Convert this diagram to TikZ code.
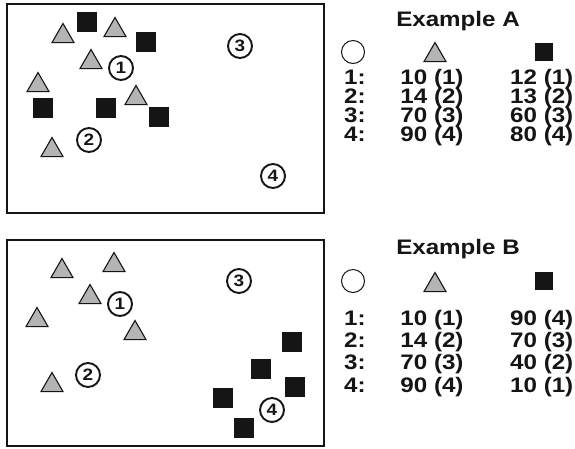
\documentclass[tikz,border=0pt]{standalone}
\usepackage{fontspec}
\setmainfont{Liberation Sans}
\newfontfamily\widefont[FakeStretch=1.15]{Liberation Sans}
\usetikzlibrary{shapes.geometric}
\definecolor{tgray}{HTML}{B4B4B4}
\definecolor{ink}{HTML}{151515}
\tikzset{
  frame/.style={draw=ink, line width=2.5pt},
  tri/.style={regular polygon, regular polygon sides=3, minimum size=25.4pt, inner sep=0pt,
    draw=ink, line width=1.1pt, fill=tgray, yshift=-3.2pt},
  sq/.style={rectangle, minimum size=20pt, inner sep=0pt, fill=ink},
  lsq/.style={rectangle, minimum size=18pt, inner sep=0pt, fill=ink},
  num/.style={circle, draw=ink, line width=1.9pt, minimum size=24pt, inner sep=0pt,
    text=ink, font=\widefont\bfseries\fontsize{16.5}{16.5}\selectfont},
  lcirc/.style={circle, draw=ink, line width=1pt, minimum size=23pt, inner sep=0pt},
  title/.style={text=ink, inner sep=0pt, font=\widefont\bfseries\fontsize{21}{21}\selectfont},
  cell/.style={text=ink, inner sep=0pt, text height=13pt, text depth=3pt,
    font=\widefont\bfseries\fontsize{21}{21}\selectfont},
}
\begin{document}
\begin{tikzpicture}[x=1pt, y=-1pt]
\useasboundingbox (0,0) rectangle (575,448);
\fill[white] (0,0) rectangle (575,448);
% ---------- Example A ----------
\draw[frame] (7,4) rectangle (324,213);
\node[tri] (a1) at (63,33) {};
\node[sq]  (a2) at (87,22) {};
\node[tri] (a3) at (115,27) {};
\node[sq]  (a4) at (146,42) {};
\node[tri] (a5) at (91,59) {};
\node[tri] (a6) at (38,82) {};
\node[sq]  (a7) at (43,108) {};
\node[sq]  (a8) at (106,108) {};
\node[tri] (a9) at (136,95) {};
\node[sq]  (a10) at (159,117) {};
\node[tri] (a11) at (52,147) {};
\node[num] (ac1) at (121,68) {1};
\node[num] (ac2) at (89,140) {2};
\node[num] (ac3) at (240,46) {3};
\node[num] (ac4) at (273,176) {4};
\node[title] (ta) at (458,21) {Example A};
\node[lcirc] (lca) at (353,52) {};
\node[tri] (lta) at (435,52) {};
\node[lsq] (lsa) at (544,52) {};
\foreach \r/\y/\b/\c in {1/79/10 (1)/12 (1), 2/98/14 (2)/13 (2), 3/117/70 (3)/60 (3), 4/136/90 (4)/80 (4)} {
  \node[cell, anchor=west] (ra\r) at (344,\y) {\r:};
  \node[cell] (ba\r) at (432,\y) {\b};
  \node[cell, anchor=west] (ca\r) at (510,\y) {\c};
}
% ---------- Example B ----------
\draw[frame] (7,240) rectangle (324,446);
\node[tri] (b1) at (62,268) {};
\node[tri] (b2) at (114,262) {};
\node[tri] (b3) at (90,294) {};
\node[tri] (b4) at (37,317) {};
\node[tri] (b5) at (135,330) {};
\node[tri] (b6) at (52,382) {};
\node[sq]  (b7) at (292,342) {};
\node[sq]  (b8) at (261,369) {};
\node[sq]  (b9) at (295,387) {};
\node[sq]  (b10) at (223,398) {};
\node[sq]  (b11) at (244,428) {};
\node[num] (bc1) at (120,304) {1};
\node[num] (bc2) at (88,375) {2};
\node[num] (bc3) at (239,281) {3};
\node[num] (bc4) at (272,410) {4};
\node[title] (tb) at (458,249) {Example B};
\node[lcirc] (lcb) at (353,281) {};
\node[tri] (ltb) at (435,282) {};
\node[lsq] (lsb) at (544,281) {};
\foreach \r/\y/\b/\c in {1/320/10 (1)/90 (4), 2/342/14 (2)/70 (3), 3/364/70 (3)/40 (2), 4/387/90 (4)/10 (1)} {
  \node[cell, anchor=west] (rb\r) at (344,\y) {\r:};
  \node[cell] (bb\r) at (432,\y) {\b};
  \node[cell, anchor=west] (cb\r) at (510,\y) {\c};
}
\end{tikzpicture}
\end{document}
